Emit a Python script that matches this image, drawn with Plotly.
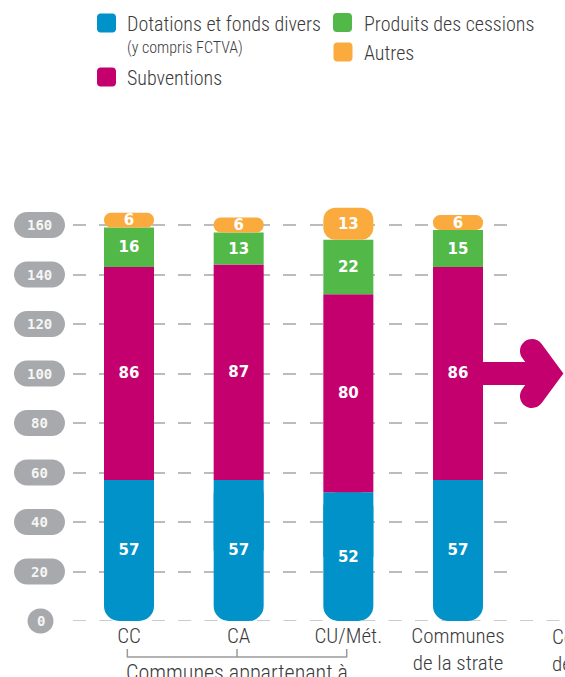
import math
import plotly.graph_objects as go

# --- data ---
categories = ["CC", "CA", "CU/Mét.", "Communes<br>de la strate"]
dotations = [57, 57, 52, 57]
subventions = [86, 87, 80, 86]
cessions = [16, 13, 22, 15]
autres = [6, 6, 13, 6]
series_names = ["Dotations et fonds divers", "Subventions", "Produits des cessions", "Autres"]
dotations_note = "(y compris FCTVA)"
group_label = "Communes appartenant à"
next_label = "Communes<br>de la strate"
y_ticks = [0, 20, 40, 60, 80, 100, 120, 140, 160]

colors = ["#0092c8", "#c4006f", "#52b848", "#fbaa3d"]
text_color = "#3b3b3b"
grid_color = "#bcbcbc"
pill_color = "#a7a9ac"
label_font = "Roboto Condensed"

# --- geometry of the plot area (pixels) ---
WIDTH, HEIGHT = 565, 677
L, R, T, B = 73, 50, 200, 56
W = WIDTH - L - R
H = HEIGHT - T - B
step_px = 109.67      # distance between two bars
unit_px = 2.475       # pixels for one unit on the y axis
zero_py = 621         # pixel row of y = 0

xs = list(range(len(categories)))
xr0 = -(129 - L) / step_px
xr1 = xr0 + W / step_px
yr0 = -(T + H - zero_py) / unit_px
yr1 = yr0 + H / unit_px
bar_w = 50 / step_px


def x2px(v):
    return L + (v - xr0) / (xr1 - xr0) * W


def y2px(v):
    return T + (yr1 - v) / (yr1 - yr0) * H


def paper(px, py):
    return (px - L) / W, (T + H - py) / H


def fmt(p):
    x, y = paper(*p)
    return f"{x:.5f},{y:.5f}"


def rounded_rect(x0, y0, x1, y1, r):
    k = 0.5523 * r
    pts = [
        ("M", [(x0 + r, y0)]),
        ("L", [(x1 - r, y0)]),
        ("C", [(x1 - r + k, y0), (x1, y0 + r - k), (x1, y0 + r)]),
        ("L", [(x1, y1 - r)]),
        ("C", [(x1, y1 - r + k), (x1 - r + k, y1), (x1 - r, y1)]),
        ("L", [(x0 + r, y1)]),
        ("C", [(x0 + r - k, y1), (x0, y1 - r + k), (x0, y1 - r)]),
        ("L", [(x0, y0 + r)]),
        ("C", [(x0, y0 + r - k), (x0 + r - k, y0), (x0 + r, y0)]),
    ]
    return " ".join(c + " " + " ".join(fmt(p) for p in ps) for c, ps in pts) + " Z"


def chevron(ax, ay):
    # thick chevron with rounded arm ends, tip pointing right
    vx, vy = ax + 90.5, ay
    cx, cy = ax + 74, ay - 22.5
    r = 12
    k = 0.5523 * r
    ln = math.hypot(cx - vx, cy - vy)
    d = ((cx - vx) / ln, (cy - vy) / ln)
    n = (-d[1], d[0])
    A = (cx + n[0] * r, cy + n[1] * r)
    Bp = (cx + d[0] * r, cy + d[1] * r)
    D = (cx - n[0] * r, cy - n[1] * r)
    s1 = (ay - A[1]) / d[1]
    tip = (A[0] + s1 * d[0], ay)
    s2 = (ay - D[1]) / d[1]
    inner = (D[0] + s2 * d[0], ay)
    c1 = (A[0] + d[0] * k, A[1] + d[1] * k)
    c2 = (Bp[0] + n[0] * k, Bp[1] + n[1] * k)
    c3 = (Bp[0] - n[0] * k, Bp[1] - n[1] * k)
    c4 = (D[0] + d[0] * k, D[1] + d[1] * k)

    def m(p):
        return (p[0], 2 * ay - p[1])

    segs = [
        ("M", [tip]), ("L", [A]), ("C", [c1, c2, Bp]), ("C", [c3, c4, D]),
        ("L", [inner]), ("L", [m(D)]), ("C", [m(c4), m(c3), m(Bp)]),
        ("C", [m(c2), m(c1), m(A)]),
    ]
    return " ".join(c + " " + " ".join(fmt(p) for p in ps) for c, ps in segs) + " Z"


base_sub = dotations
base_ces = [a + b for a, b in zip(dotations, subventions)]
base_aut = [a + b for a, b in zip(base_ces, cessions)]

bar_text = dict(family="DejaVu Sans", size=15, color="white", weight="bold")
common = dict(width=bar_w, textposition="inside", insidetextanchor="middle",
              textangle=0, constraintext="none", texttemplate="%{text}",
              textfont=bar_text, hoverinfo="skip", showlegend=False)

fig = go.Figure()
# square upper half of the blue bars, under the rounded one (keeps its top square)
fig.add_trace(go.Bar(x=xs, y=[v / 2 for v in dotations], base=[v / 2 for v in dotations],
                     width=bar_w, marker=dict(color=colors[0], line_width=0),
                     textposition="none", hoverinfo="skip", showlegend=False))
# blue drawn downward from its top so that its bottom end gets rounded
fig.add_trace(go.Bar(x=xs, y=[-v for v in dotations], base=dotations, text=dotations,
                     name=series_names[0], marker=dict(color=colors[0], cornerradius=15,
                                                       line_width=0), **common))
fig.add_trace(go.Bar(x=xs, y=subventions, base=base_sub, text=subventions,
                     name=series_names[1], marker=dict(color=colors[1], line_width=0), **common))
fig.add_trace(go.Bar(x=xs, y=cessions, base=base_ces, text=cessions,
                     name=series_names[2], marker=dict(color=colors[2], line_width=0), **common))
fig.add_trace(go.Bar(x=xs, y=autres, base=base_aut, text=autres,
                     name=series_names[3], marker=dict(color=colors[3], cornerradius=12,
                                                       line_width=0), **common))

shapes = []
annotations = []

# grey pills behind the y values
for v in y_ticks:
    cy = y2px(v)
    if v == 0:
        shapes.append(dict(type="path", path=rounded_rect(27.5, cy - 12.5, 53.5, cy + 12.5, 12.5),
                           xref="paper", yref="paper", fillcolor=pill_color, line_width=0,
                           layer="below"))
        cx = 40.5
    else:
        shapes.append(dict(type="path", path=rounded_rect(14, cy - 13, 65, cy + 13, 13),
                           xref="paper", yref="paper", fillcolor=pill_color, line_width=0,
                           layer="below"))
        cx = 39.5
    annotations.append(dict(x=paper(cx, 0)[0], y=paper(0, cy)[1], xref="paper", yref="paper",
                            text=str(v), showarrow=False, xanchor="center", yanchor="middle",
                            font=dict(family="DejaVu Sans Mono", size=14, color="#f5f5f5",
                                      weight="bold")))

# baseline runs on to the right edge
shapes.append(dict(type="line", xref="paper", yref="y", x0=0, x1=paper(WIDTH, 0)[0], y0=0, y1=0,
                   line=dict(color=grid_color, width=1.5, dash="13px,13.3px"), layer="below"))

# arrow leaving the last bar
ax, ay = x2px(xs[-1]), y2px(100)
shapes.append(dict(type="path", path=rounded_rect(ax + 24, ay - 11.5, ax + 90, ay + 11.5, 0.01),
                   xref="paper", yref="paper", fillcolor=colors[1], line_width=0, layer="above"))
shapes.append(dict(type="path", path=chevron(ax, ay), xref="paper", yref="paper",
                   fillcolor=colors[1], line_width=0, layer="above"))

# bracket under the first three categories
by_top, by_bot = paper(0, 649)[1], paper(0, 657)[1]
shapes.append(dict(type="line", xref="x", yref="paper", x0=xs[0] - 0.02, x1=xs[2] - 0.01,
                   y0=by_bot, y1=by_bot, line=dict(color="#9a9a9a", width=1.5)))
for i in xs[:3]:
    shapes.append(dict(type="line", xref="x", yref="paper", x0=i - 0.015, x1=i - 0.015,
                       y0=by_top, y1=by_bot, line=dict(color="#9a9a9a", width=1.5)))
annotations.append(dict(x=xs[1], xshift=-2, y=paper(0, 658)[1], xref="x", yref="paper",
                        text=group_label, showarrow=False, xanchor="center", yanchor="top",
                        font=dict(family=label_font, size=22, color=text_color, weight=300)))
annotations.append(dict(x=paper(550, 0)[0], y=paper(0, 623)[1], xref="paper", yref="paper",
                        text=next_label, showarrow=False, xanchor="left", yanchor="top",
                        align="left",
                        font=dict(family=label_font, size=21, color=text_color, weight=300)))

# legend drawn by hand: two columns
legend_items = [
    (0, 106.5, 23), (1, 106.5, 77), (2, 342.5, 22.5), (3, 343, 52),
]
for idx, cx, cy in legend_items:
    shapes.append(dict(type="path", path=rounded_rect(cx - 9.5, cy - 9.5, cx + 9.5, cy + 9.5, 3.5),
                       xref="paper", yref="paper", fillcolor=colors[idx], line_width=0))
    tx = 125 if cx < 200 else 362
    annotations.append(dict(x=paper(tx, 0)[0], y=paper(0, cy + 1)[1], xref="paper", yref="paper",
                            text=series_names[idx], showarrow=False, xanchor="left",
                            yanchor="middle", font=dict(family=label_font, size=20,
                                                        color=text_color, weight=300)))
annotations.append(dict(x=paper(125, 0)[0], y=paper(0, 48)[1], xref="paper", yref="paper",
                        text=dotations_note, showarrow=False, xanchor="left", yanchor="middle",
                        font=dict(family=label_font, size=16, color=text_color, weight=300)))

fig.update_layout(
    width=WIDTH, height=HEIGHT,
    autosize=False,
    margin=dict(l=L, r=R, t=T, b=B, pad=0, autoexpand=False),
    paper_bgcolor="white", plot_bgcolor="white",
    barmode="overlay",
    showlegend=False,
    uniformtext=dict(minsize=15, mode="show"),
    shapes=shapes,
    annotations=annotations,
    xaxis=dict(range=[xr0, xr1], tickvals=xs, ticktext=categories, showgrid=False,
               zeroline=False, showline=False, ticks="", automargin=False,
               tickfont=dict(family=label_font, size=21, color=text_color, weight=300)),
    yaxis=dict(range=[yr0, yr1], tickvals=y_ticks, showticklabels=False, showgrid=True,
               gridcolor=grid_color, gridwidth=1.5, griddash="13px,13.3px",
               zeroline=False, showline=False, ticks="", automargin=False),
)

# the page must be exactly the figure's size
fig.write_html("out.html", config={"responsive": False, "displayModeBar": False},
               post_script="document.body.style.margin = '0';")
